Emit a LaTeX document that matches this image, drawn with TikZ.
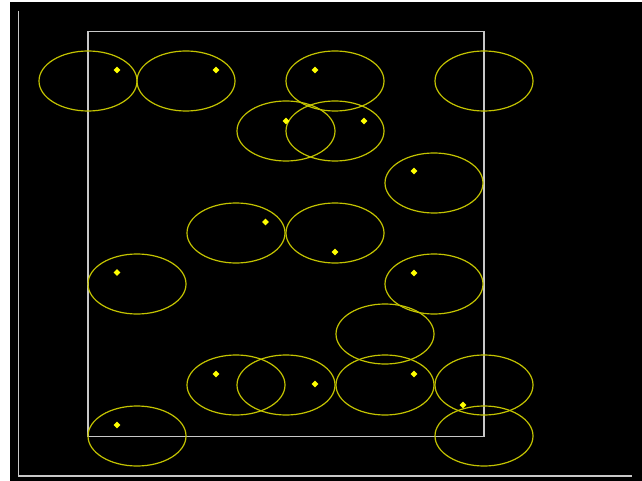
\documentclass[tikz,border=0pt]{standalone}
\usetikzlibrary{shapes.geometric}
\definecolor{ring}{RGB}{195,195,0}
\definecolor{pt}{RGB}{255,255,0}
\definecolor{frame}{RGB}{200,200,200}
\begin{document}
\begin{tikzpicture}[x=1pt,y=-1pt,
  blob/.style={draw=ring,line width=1.2pt,ellipse,minimum width=98pt,minimum height=60pt,inner sep=0pt},
  dot/.style={fill=pt,draw=none,diamond,minimum size=7pt,inner sep=0pt},
  axis/.style={draw=frame,line width=1.3pt}]
\useasboundingbox (0,0) rectangle (642,481);
\fill[white] (0,0) rectangle (642,481);
\fill[black] (10,2) rectangle (642,481);
% axes
\coordinate (atop) at (18.5,11);
\coordinate (aorig) at (18.5,476);
\coordinate (aright) at (632,476);
\draw[axis] (atop) -- (aorig) -- (aright);
% frame
\coordinate (r1) at (88,31.5);
\coordinate (r2) at (484,436.5);
\draw[axis] (r1) rectangle (r2);
% ellipses
\foreach \n/\x/\y in {e1/88/81,e2/186/81,e3/335/81,e4/484/81,e5/286/131,e6/335/131,
  e7/434/183,e8/236/233,e9/335/233,e10/137/284,e11/434/284,e12/385/334,
  e13/236/385,e14/286/385,e15/385/385,e16/484/385,e17/137/436,e18/484/436}
  \node[blob] (\n) at (\x,\y) {};
% points
\foreach \n/\x/\y in {d1/117/70,d2/216/70,d3/315/70,d4/286/121,d5/364/121,d6/414/171,
  d7/265.5/222,d8/335/252,d9/117/272.5,d10/414/273,d11/216/374,d12/315/384,
  d13/414/374,d14/463/405,d15/117/425}
  \node[dot] (\n) at (\x,\y) {};
\end{tikzpicture}
\end{document}
